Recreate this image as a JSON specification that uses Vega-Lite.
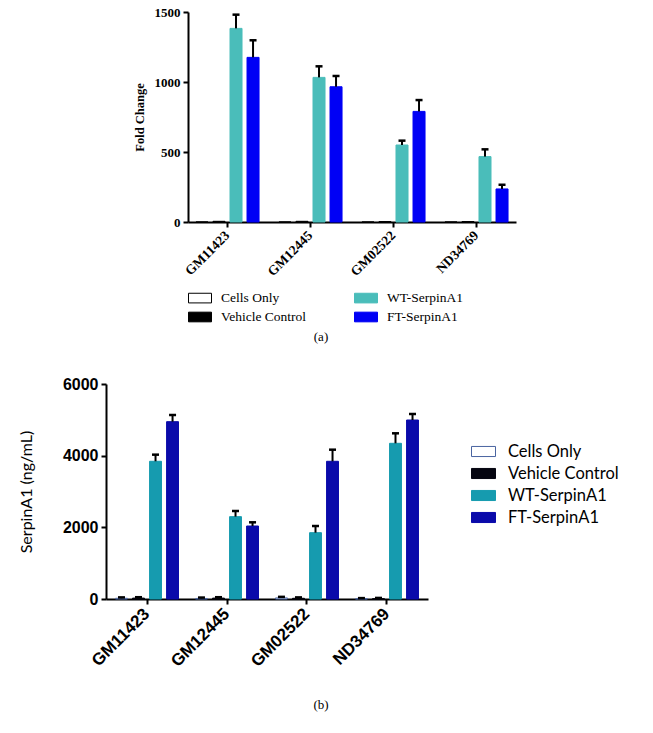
{
  "$schema": "https://vega.github.io/schema/vega-lite/v6.json",
  "padding": {"left": 18, "top": 6, "right": 5, "bottom": 5},
  "spacing": 32,
  "background": "white",
  "config": {
    "view": {"stroke": null},
    "axis": {"domainColor": "black", "domainWidth": 2, "tickColor": "black", "tickWidth": 2, "tickSize": 5, "grid": false, "labelColor": "black", "titleColor": "black"},
    "legend": {"labelFont": "Liberation Serif", "labelFontSize": 13.5, "labelColor": "black"}
  },
  "datasets": {
    "a": [
      {"line": "GM11423", "group": "Cells Only", "value": 0, "upper": 0},
      {"line": "GM11423", "group": "Vehicle Control", "value": 5, "upper": 5},
      {"line": "GM11423", "group": "WT-SerpinA1", "value": 1383, "upper": 1481},
      {"line": "GM11423", "group": "FT-SerpinA1", "value": 1176, "upper": 1298},
      {"line": "GM12445", "group": "Cells Only", "value": 0, "upper": 0},
      {"line": "GM12445", "group": "Vehicle Control", "value": 5, "upper": 5},
      {"line": "GM12445", "group": "WT-SerpinA1", "value": 1033, "upper": 1112},
      {"line": "GM12445", "group": "FT-SerpinA1", "value": 966, "upper": 1043},
      {"line": "GM02522", "group": "Cells Only", "value": 0, "upper": 0},
      {"line": "GM02522", "group": "Vehicle Control", "value": 3, "upper": 3},
      {"line": "GM02522", "group": "WT-SerpinA1", "value": 550, "upper": 581},
      {"line": "GM02522", "group": "FT-SerpinA1", "value": 790, "upper": 871},
      {"line": "ND34769", "group": "Cells Only", "value": 0, "upper": 0},
      {"line": "ND34769", "group": "Vehicle Control", "value": 3, "upper": 3},
      {"line": "ND34769", "group": "WT-SerpinA1", "value": 467, "upper": 519},
      {"line": "ND34769", "group": "FT-SerpinA1", "value": 236, "upper": 266}
    ],
    "b": [
      {"line": "GM11423", "group": "Cells Only", "value": 20, "upper": 45},
      {"line": "GM11423", "group": "Vehicle Control", "value": 25, "upper": 50},
      {"line": "GM11423", "group": "WT-SerpinA1", "value": 3843, "upper": 4028},
      {"line": "GM11423", "group": "FT-SerpinA1", "value": 4949, "upper": 5135},
      {"line": "GM12445", "group": "Cells Only", "value": 15, "upper": 40},
      {"line": "GM12445", "group": "Vehicle Control", "value": 25, "upper": 50},
      {"line": "GM12445", "group": "WT-SerpinA1", "value": 2298, "upper": 2456},
      {"line": "GM12445", "group": "FT-SerpinA1", "value": 2037, "upper": 2140},
      {"line": "GM02522", "group": "Cells Only", "value": 30, "upper": 60},
      {"line": "GM02522", "group": "Vehicle Control", "value": 20, "upper": 45},
      {"line": "GM02522", "group": "WT-SerpinA1", "value": 1851, "upper": 2037},
      {"line": "GM02522", "group": "FT-SerpinA1", "value": 3843, "upper": 4167},
      {"line": "ND34769", "group": "Cells Only", "value": 10, "upper": 25},
      {"line": "ND34769", "group": "Vehicle Control", "value": 10, "upper": 30},
      {"line": "ND34769", "group": "WT-SerpinA1", "value": 4345, "upper": 4624},
      {"line": "ND34769", "group": "FT-SerpinA1", "value": 4995, "upper": 5163}
    ]
  },
  "vconcat": [
    {
      "width": 410,
      "height": 210,
      "data": {"name": "a"},
      "title": {"text": "(a)", "orient": "bottom", "font": "Liberation Serif", "fontSize": 13, "fontWeight": "normal", "offset": 7, "dx": 10, "color": "black"},
      "encoding": {
        "x": {"field": "line", "type": "nominal", "sort": null,
          "scale": {"type": "band", "range": [82, 410], "paddingInner": 0.24, "paddingOuter": 0.096},
          "axis": {"title": null, "labelAngle": -45, "labelAlign": "right", "labelBaseline": "middle", "labelFont": "Liberation Serif", "labelFontSize": 13.5, "labelFontWeight": "bold", "labelPadding": 6}},
        "xOffset": {"field": "group", "type": "nominal",
          "scale": {"domain": ["Cells Only", "Vehicle Control", "WT-SerpinA1", "FT-SerpinA1"], "paddingInner": 0.294, "paddingOuter": 0}}
      },
      "layer": [
        {
          "mark": {"type": "bar", "strokeWidth": 1},
          "encoding": {
            "y": {"field": "value", "type": "quantitative",
              "scale": {"domain": [0, 1500], "nice": false},
              "axis": {"offset": -82, "values": [0, 500, 1000, 1500], "format": "d", "title": "Fold Change", "titleFont": "Liberation Serif", "titleFontSize": 12.5, "titleFontWeight": "bold", "titlePadding": 8, "labelFont": "Liberation Serif", "labelFontSize": 13, "labelFontWeight": "bold", "labelPadding": 3}},
            "fill": {"field": "group", "type": "nominal",
              "scale": {"domain": ["Cells Only", "Vehicle Control", "WT-SerpinA1", "FT-SerpinA1"], "range": ["#ffffff", "#000000", "#4abdba", "#0000f5"]},
              "legend": {"title": null, "orient": "none", "legendX": 82, "legendY": 274, "columns": 2, "columnPadding": 45, "rowPadding": 0, "symbolType": "M-1,-0.42H1V0.42H-1Z", "symbolSize": 529, "symbolStrokeWidth": 1, "labelFont": "Liberation Serif", "labelFontSize": 13.5, "labelOffset": 9, "labelColor": "black"}},
            "stroke": {"field": "group", "type": "nominal",
              "scale": {"domain": ["Cells Only", "Vehicle Control", "WT-SerpinA1", "FT-SerpinA1"], "range": ["#000000", "#000000", "#4abdba", "#0000f5"]},
              "legend": {"title": null, "orient": "none", "legendX": 82, "legendY": 274, "columns": 2, "columnPadding": 45, "rowPadding": 0, "symbolType": "M-1,-0.42H1V0.42H-1Z", "symbolSize": 529, "symbolStrokeWidth": 1, "labelFont": "Liberation Serif", "labelFontSize": 13.5, "labelOffset": 9, "labelColor": "black"}}
          }
        },
        {
          "transform": [{"filter": "datum.upper > datum.value"}],
          "mark": {"type": "rule", "color": "black", "strokeWidth": 2},
          "encoding": {
            "y": {"field": "value", "type": "quantitative"},
            "y2": {"field": "upper"}
          }
        },
        {
          "transform": [{"filter": "datum.upper > datum.value"}],
          "mark": {"type": "tick", "color": "black", "thickness": 2.5, "size": 7, "opacity": 1},
          "encoding": {
            "y": {"field": "upper", "type": "quantitative"}
          }
        }
      ]
    },
    {
      "width": 322,
      "height": 215,
      "data": {"name": "b"},
      "title": {"text": "(b)", "orient": "bottom", "font": "Liberation Serif", "fontSize": 13, "fontWeight": "normal", "offset": 30, "dx": 54, "color": "black"},
      "encoding": {
        "x": {"field": "line", "type": "nominal", "sort": null,
          "scale": {"type": "band", "paddingInner": 0.2125, "paddingOuter": 0.119},
          "axis": {"title": null, "labelAngle": -45, "labelAlign": "right", "labelBaseline": "middle", "labelFont": "Liberation Sans", "labelFontSize": 17, "labelFontWeight": "bold", "labelPadding": 7}},
        "xOffset": {"field": "group", "type": "nominal",
          "scale": {"domain": ["Cells Only", "Vehicle Control", "WT-SerpinA1", "FT-SerpinA1"], "paddingInner": 0.3, "paddingOuter": 0}}
      },
      "layer": [
        {
          "mark": {"type": "bar", "strokeWidth": 1},
          "encoding": {
            "y": {"field": "value", "type": "quantitative",
              "scale": {"domain": [0, 6000], "nice": false},
              "axis": {"values": [0, 2000, 4000, 6000], "format": "d", "title": "SerpinA1 (ng/mL)", "titleFont": "Lato", "titleFontSize": 16, "titleFontWeight": "normal", "titlePadding": 28, "labelFont": "Liberation Sans", "labelFontSize": 16, "labelFontWeight": "bold", "labelPadding": 3}},
            "fill": {"field": "group", "type": "nominal",
              "scale": {"domain": ["Cells Only", "Vehicle Control", "WT-SerpinA1", "FT-SerpinA1"], "range": ["#ffffff", "#050510", "#169baf", "#0a0aaa"]},
              "legend": {"title": null, "orient": "none", "legendX": 365, "legendY": 55, "rowPadding": 1, "symbolType": "M-1,-0.42H1V0.42H-1Z", "symbolSize": 576, "symbolStrokeWidth": 1, "labelFont": "Lato", "labelFontSize": 16.5, "labelOffset": 12, "labelColor": "black"}},
            "stroke": {"field": "group", "type": "nominal",
              "scale": {"domain": ["Cells Only", "Vehicle Control", "WT-SerpinA1", "FT-SerpinA1"], "range": ["#4a64a0", "#050510", "#169baf", "#0a0aaa"]},
              "legend": {"title": null, "orient": "none", "legendX": 365, "legendY": 55, "rowPadding": 1, "symbolType": "M-1,-0.42H1V0.42H-1Z", "symbolSize": 576, "symbolStrokeWidth": 1, "labelFont": "Lato", "labelFontSize": 16.5, "labelOffset": 12, "labelColor": "black"}}
          }
        },
        {
          "mark": {"type": "rule", "color": "black", "strokeWidth": 2},
          "encoding": {
            "y": {"field": "value", "type": "quantitative"},
            "y2": {"field": "upper"}
          }
        },
        {
          "mark": {"type": "tick", "color": "black", "thickness": 2.5, "size": 7, "opacity": 1},
          "encoding": {
            "y": {"field": "upper", "type": "quantitative"}
          }
        }
      ]
    }
  ],
  "resolve": {
    "scale": {"x": "independent", "y": "independent", "xOffset": "independent", "fill": "independent", "stroke": "independent"},
    "legend": {"fill": "independent", "stroke": "independent"}
  }
}
